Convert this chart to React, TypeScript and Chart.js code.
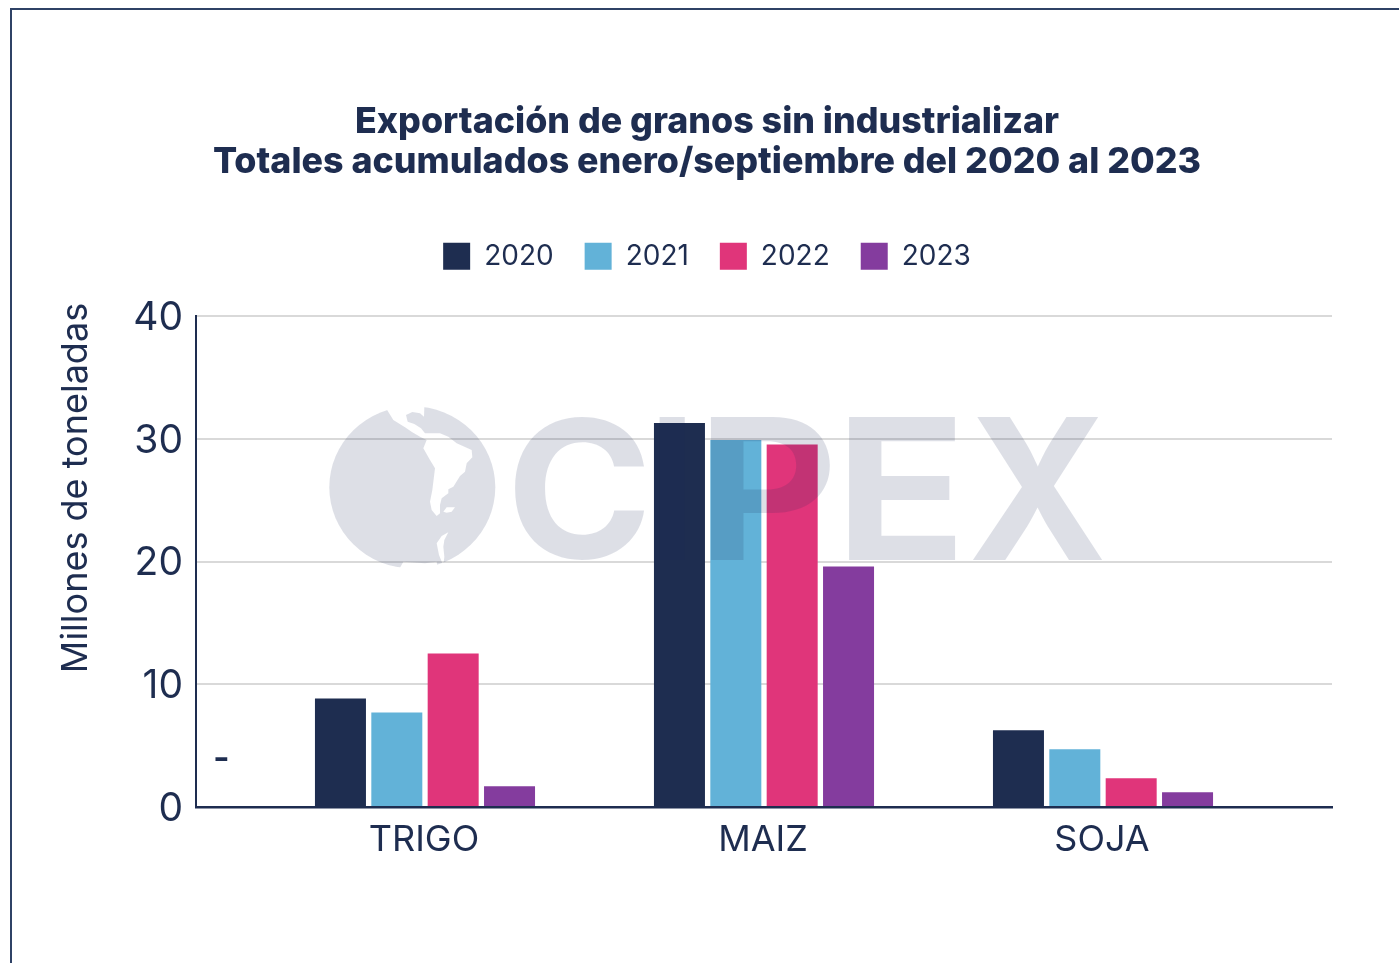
import React, { useEffect, useRef } from "react";
import { Chart, registerables } from "chart.js";

Chart.register(...registerables);

const categories = ["TRIGO", "MAIZ", "SOJA"];
const values2020 = [8.85, 31.3, 6.25];
const values2021 = [7.7, 29.9, 4.7];
const values2022 = [12.5, 29.55, 2.35];
const values2023 = [1.7, 19.6, 1.2];
const yearLabels = ["2020", "2021", "2022", "2023"];
const yTicks = [0, 10, 20, 30, 40];
const titleLines = [
  "Exportación de granos sin industrializar",
  "Totales acumulados enero/septiembre del 2020 al 2023",
];
const yAxisTitle = "Millones de toneladas";

const NAVY = "#1e2d50";
const BLUE = "#62b2d8";
const PINK = "#e0357a";
const PURPLE = "#843c9e";
const GRID = "#d9d9d9";
const FONT = "Inter";

const LAND: number[][][] = [
  [[185,10],[185,28],[205,60],[240,82],[262,97],[285,110],[305,120],[295,145],[315,180],[330,205],[322,270],[315,305],[320,330],[335,348],[345,340],[345,315],[350,295],[370,280],[370,268],[385,260],[405,228],[420,215],[425,190],[442,172],[440,150],[395,130],[370,110],[345,100],[320,100],[300,100],[288,85],[268,72],[248,65],[243,45],[262,36],[285,40],[297,50],[298,22],[298,10]],
  [[355,335],[365,322],[390,322],[380,335],[365,338]],
  [[370,397],[350,408],[335,430],[342,465],[355,497],[358,470],[355,440],[358,420]],
  [[130,490],[170,495],[225,503],[235,485],[300,490],[335,485],[340,520],[130,520]],
];

const LETTERS: [string, number, number][] = [
  ["C", 514, 644],
  ["I", 659, 685],
  ["P", 710, 830],
  ["E", 848, 955],
  ["X", 972, 1103],
];

const decor = {
  id: "decor",
  beforeDraw(chart: any) {
    const ctx = chart.ctx;
    ctx.save();
    ctx.strokeStyle = "#2f4266";
    ctx.lineWidth = 2;
    ctx.beginPath();
    ctx.moveTo(11, 963);
    ctx.lineTo(11, 9);
    ctx.lineTo(1399, 9);
    ctx.stroke();
    ctx.restore();
  },
  afterDatasetsDraw(chart: any) {
    const ctx = chart.ctx;
    const wm = "rgba(30,40,85,0.15)";
    ctx.save();
    ctx.beginPath();
    ctx.ellipse(412.3, 487.3, 83, 81, 0, 0, Math.PI * 2);
    ctx.clip();
    ctx.beginPath();
    ctx.rect(300, 380, 240, 220);
    for (const poly of LAND) {
      poly.forEach(([x, y], i) => {
        const px = 325 + x / 3;
        const py = 400 + y / 3;
        if (i === 0) ctx.moveTo(px, py);
        else ctx.lineTo(px, py);
      });
      ctx.closePath();
    }
    ctx.fillStyle = wm;
    ctx.fill("evenodd");
    ctx.restore();

    ctx.save();
    ctx.fillStyle = wm;
    ctx.font = `700 195px ${FONT}`;
    ctx.textAlign = "left";
    ctx.textBaseline = "alphabetic";
    for (const [ch, x0, x1] of LETTERS) {
      const m = ctx.measureText(ch);
      const w = m.actualBoundingBoxLeft + m.actualBoundingBoxRight;
      const sx = (x1 - x0) / w;
      const sy = 143 / (m.actualBoundingBoxAscent + m.actualBoundingBoxDescent);
      ctx.save();
      ctx.translate(x0 + m.actualBoundingBoxLeft * sx, 560);
      ctx.scale(sx, sy);
      ctx.fillText(ch, 0, -m.actualBoundingBoxDescent);
      ctx.restore();
    }
    ctx.restore();
  },
  afterDraw(chart: any) {
    const ctx = chart.ctx;
    ctx.save();
    ctx.fillStyle = NAVY;
    ctx.textAlign = "center";
    ctx.textBaseline = "middle";
    ctx.font = `600 36px ${FONT}`;
    ctx.fillText("-", 221.5, 759);
    ctx.translate(76, 488);
    ctx.rotate(-Math.PI / 2);
    ctx.font = `400 36px ${FONT}`;
    ctx.fillText(yAxisTitle, 0, 0);
    ctx.restore();
  },
};

function series(values: number[]) {
  return values.map((y, i) => ({ x: i + 1, y }));
}

export default function App() {
  const ref = useRef<HTMLCanvasElement>(null);
  useEffect(() => {
    if (!ref.current) return;
    const allValues = [values2020, values2021, values2022, values2023];
    const colors = [NAVY, BLUE, PINK, PURPLE];
    const chart = new Chart(ref.current, {
      type: "bar",
      data: {
        datasets: yearLabels.map((label, i) => ({
          label,
          data: series(allValues[i]),
          backgroundColor: colors[i],
          categoryPercentage: 0.665,
          barPercentage: 0.905,
        })),
      },
      options: {
        animation: false,
        responsive: false,
        parsing: { xAxisKey: "x", yAxisKey: "y" },
        layout: { padding: { left: 15, top: 0, right: 0, bottom: 0 } },
        plugins: {
          tooltip: { enabled: false },
          title: {
            display: true,
            text: titleLines,
            color: NAVY,
            font: { family: FONT, size: 35.8, weight: "800", lineHeight: 1.12 },
            padding: { top: 102, bottom: 29 },
          },
          legend: {
            display: true,
            position: "top",
            labels: {
              color: NAVY,
              font: { family: FONT, size: 28, weight: "400" },
              boxWidth: 27,
              boxHeight: 27,
              padding: 31,
            },
          },
        },
        scales: {
          x: {
            type: "linear",
            position: "bottom",
            offset: false,
            min: 0.3245,
            max: 3.6755,
            afterBuildTicks(s: any) {
              s.ticks = categories.map((_, i) => ({ value: i + 1 }));
            },
            afterFit(s: any) {
              s.height = 156;
            },
            grid: { display: false },
            border: { color: NAVY, width: 2.5 },
            ticks: {
              autoSkip: false,
              maxRotation: 0,
              color: NAVY,
              padding: 4,
              labelOffset: -1,
              font: { family: FONT, size: 36, weight: "400" },
              callback: (v: any) => categories[Number(v) - 1] ?? "",
            },
          },
          xTopSpace: {
            type: "linear",
            position: "top",
            afterBuildTicks(s: any) { s.ticks = []; },
            afterFit(s: any) { s.height = 36; },
            grid: { display: false },
            border: { display: false },
            ticks: { display: false },
          },
          y: {
            type: "linear",
            position: "left",
            min: 0,
            max: 40,
            afterBuildTicks(s: any) {
              s.ticks = yTicks.map((value) => ({ value }));
            },
            afterFit(s: any) {
              s.width = 181;
            },
            grid: { color: GRID, lineWidth: 2, drawTicks: false },
            border: { color: NAVY, width: 2 },
            ticks: {
              color: NAVY,
              padding: 13,
              labelOffset: 2,
              font: { family: FONT, size: 39, weight: "400" },
            },
          },
          yRightSpace: {
            type: "linear",
            position: "right",
            afterBuildTicks(s: any) { s.ticks = []; },
            afterFit(s: any) { s.width = 67; },
            grid: { display: false },
            border: { display: false },
            ticks: { display: false },
          },
        },
      } as any,
      plugins: [decor],
    });
    return () => chart.destroy();
  }, []);
  return (
    <div style={{ position: "fixed", left: 0, top: 0, width: 1399, height: 963, background: "#fff" }}>
      <canvas ref={ref} width={1399} height={963} style={{ display: "block" }} />
    </div>
  );
}
